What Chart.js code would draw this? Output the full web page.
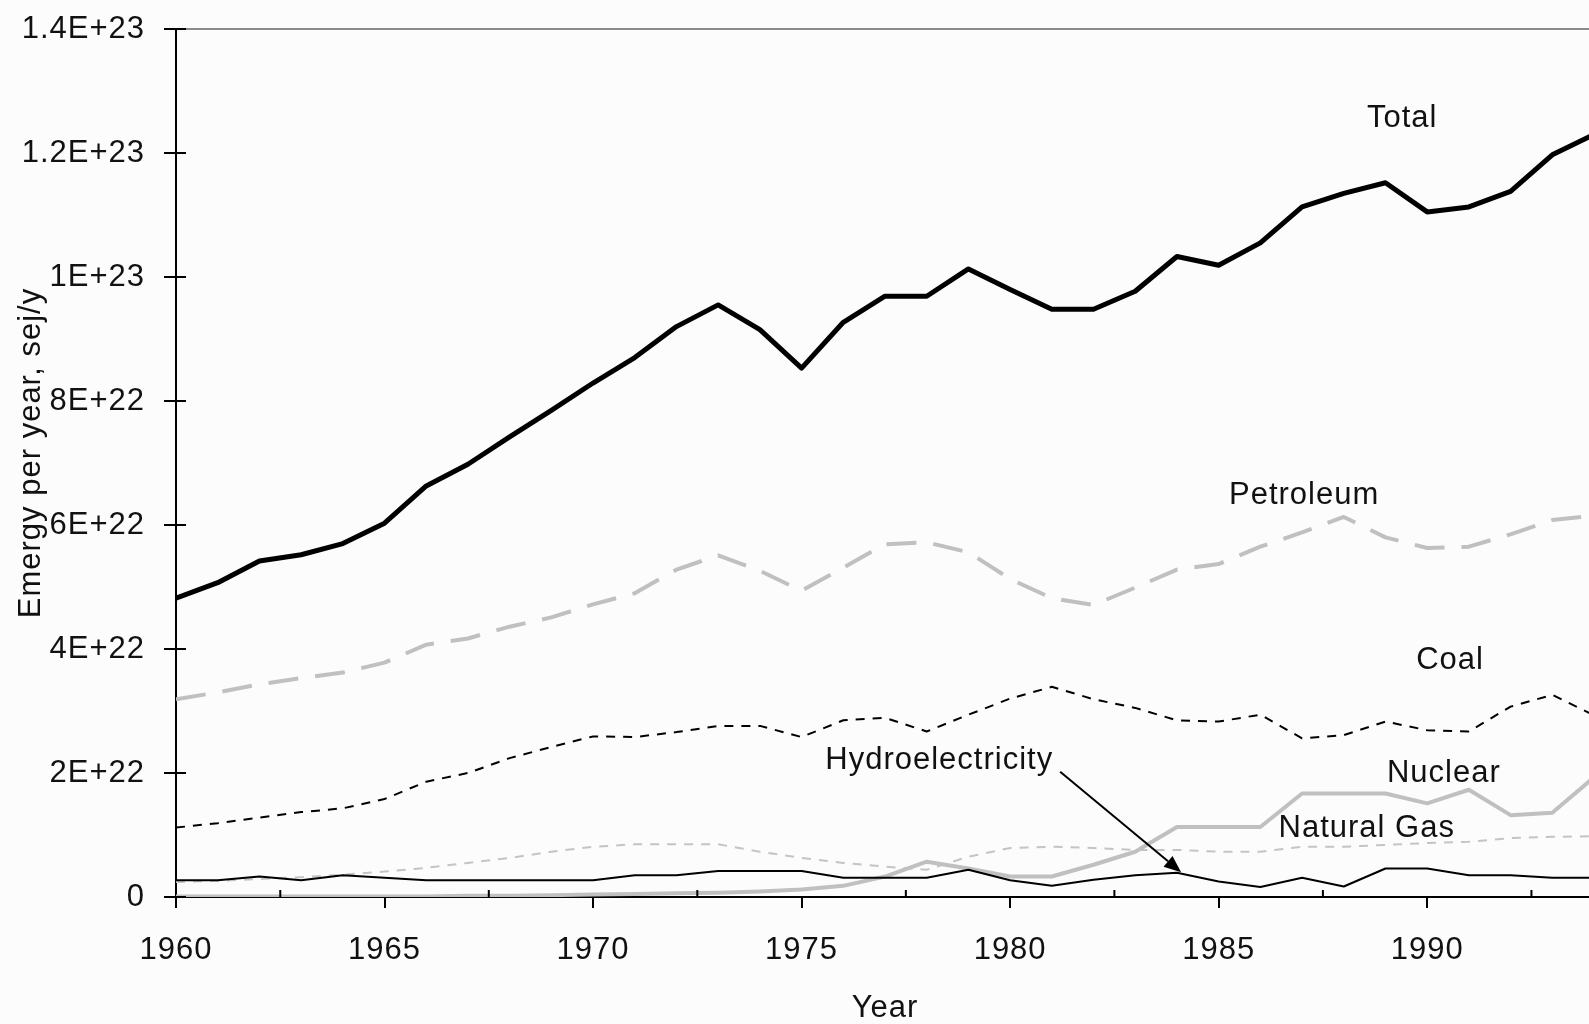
<!DOCTYPE html>
<html>
<head>
<meta charset="utf-8">
<title>Emergy per year</title>
<script src="https://cdn.jsdelivr.net/npm/chart.js@4.4.0/dist/chart.umd.min.js"></script>
<style>
  html, body { margin: 0; padding: 0; background: #fcfcfc; overflow: hidden; }
  #wrap { width: 1600px; height: 1024px; }
</style>
</head>
<body>
<div id="wrap"><canvas id="myChart" width="1600" height="1024"></canvas></div>
<script>
  // emergy per year by source, in units of 1E+21 sej/y
  var years = [1960, 1961, 1962, 1963, 1964, 1965, 1966, 1967, 1968, 1969,
               1970, 1971, 1972, 1973, 1974, 1975, 1976, 1977, 1978, 1979,
               1980, 1981, 1982, 1983, 1984, 1985, 1986, 1987, 1988, 1989,
               1990, 1991, 1992, 1993, 1994];
  var total = [48.2, 50.7, 54.2, 55.2, 57.0, 60.3, 66.3, 69.8, 74.2, 78.5,
               82.9, 87.0, 92.0, 95.5, 91.5, 85.3, 92.7, 96.9, 96.9, 101.3,
               98.0, 94.8, 94.8, 97.7, 103.3, 101.9, 105.5, 111.3, 113.5, 115.2,
               110.5, 111.3, 113.8, 119.7, 123.0];
  var petroleum = [31.9, 33.0, 34.3, 35.3, 36.2, 37.8, 40.7, 41.7, 43.6, 45.1,
                   47.2, 49.0, 52.8, 55.1, 52.6, 49.4, 53.1, 56.9, 57.2, 55.6,
                   51.3, 48.2, 47.1, 49.9, 52.8, 53.7, 56.5, 58.8, 61.3, 58.0,
                   56.3, 56.5, 58.5, 60.8, 61.5];
  var coal = [11.2, 11.9, 12.8, 13.7, 14.3, 15.8, 18.6, 20.0, 22.4, 24.2,
              25.9, 25.8, 26.6, 27.6, 27.6, 25.8, 28.5, 28.9, 26.7, 29.4,
              32.0, 33.9, 31.9, 30.5, 28.5, 28.3, 29.4, 25.6, 26.1, 28.3,
              26.9, 26.7, 30.7, 32.6, 29.3];
  var naturalGas = [2.4, 2.6, 2.9, 3.2, 3.6, 4.1, 4.7, 5.5, 6.3, 7.3,
                    8.1, 8.5, 8.5, 8.5, 7.3, 6.3, 5.5, 4.9, 4.4, 6.5,
                    7.9, 8.1, 7.9, 7.6, 7.6, 7.3, 7.3, 8.1, 8.1, 8.4,
                    8.7, 8.9, 9.5, 9.7, 9.8];
  var hydro = [2.7, 2.7, 3.3, 2.7, 3.5, 3.1, 2.7, 2.7, 2.7, 2.7,
               2.7, 3.5, 3.5, 4.2, 4.2, 4.2, 3.1, 3.1, 3.1, 4.4,
               2.7, 1.8, 2.8, 3.5, 3.9, 2.5, 1.6, 3.1, 1.7, 4.6,
               4.6, 3.5, 3.5, 3.1, 3.1];
  var nuclear = [0.1, 0.1, 0.1, 0.1, 0.1, 0.1, 0.1, 0.2, 0.2, 0.3,
                 0.4, 0.5, 0.6, 0.7, 0.9, 1.2, 1.8, 3.3, 5.7, 4.6,
                 3.3, 3.3, 5.2, 7.3, 11.3, 11.3, 11.3, 16.7, 16.7, 16.7,
                 15.1, 17.3, 13.2, 13.6, 19.3];

  var yTickLabels = ['0', '2E+22', '4E+22', '6E+22', '8E+22', '1E+23', '1.2E+23', '1.4E+23'];
  var xTicks = [1960, 1965, 1970, 1975, 1980, 1985, 1990];

  // names written beside each curve, placed in (year, value)
  var seriesNotes = [
    { text: 'Total', year: 1989.4, value: 125.6 },
    { text: 'Petroleum', year: 1987.05, value: 64.8 },
    { text: 'Coal', year: 1990.55, value: 38.2 },
    { text: 'Hydroelectricity', year: 1978.3, value: 22.1 },
    { text: 'Nuclear', year: 1990.4, value: 20.0 },
    { text: 'Natural Gas', year: 1988.55, value: 11.1 }
  ];
  var hydroArrow = { from: [1981.2, 20.2], to: [1984.1, 4.0] };

  var font = '"Liberation Sans", Arial, sans-serif';
  var ink = '#111';

  function pts(values) {
    return values.map(function (v, i) { return { x: years[i], y: v }; });
  }

  var frame = {
    id: 'frame',
    beforeDraw: function (chart) {
      var ctx = chart.ctx;
      ctx.letterSpacing = '1px';
      ctx.save();
      ctx.fillStyle = '#fcfcfc';
      ctx.fillRect(0, 0, chart.width, chart.height);
      ctx.restore();
    },
    afterDraw: function (chart) {
      var ctx = chart.ctx;
      var a = chart.chartArea;
      var x = chart.scales.x, y = chart.scales.y;
      ctx.save();

      // thin grey line along the top of the plot
      ctx.strokeStyle = '#8a8a8a';
      ctx.lineWidth = 2;
      ctx.beginPath();
      ctx.moveTo(a.left, a.top);
      ctx.lineTo(a.right, a.top);
      ctx.stroke();

      // y ticks cross the axis, minor x ticks point up
      ctx.strokeStyle = '#000';
      ctx.beginPath();
      y.ticks.forEach(function (t) {
        var py = y.getPixelForValue(t.value);
        ctx.moveTo(a.left - 12, py);
        ctx.lineTo(a.left + 10, py);
      });
      xTicks.forEach(function (v) {
        var px = x.getPixelForValue(v + 2.5);
        ctx.moveTo(px, a.bottom);
        ctx.lineTo(px, a.bottom - 7);
      });
      ctx.stroke();

      // y axis title, a little above the middle of the axis
      ctx.fillStyle = ink;
      ctx.textAlign = 'center';
      ctx.textBaseline = 'middle';
      ctx.font = '31px ' + font;
      ctx.save();
      ctx.translate(31, (a.top + a.bottom) / 2 - 10);
      ctx.rotate(-Math.PI / 2);
      ctx.fillText('Emergy per year, sej/y', 0, 0);
      ctx.restore();

      // curve names
      seriesNotes.forEach(function (n) {
        ctx.fillText(n.text, x.getPixelForValue(n.year), y.getPixelForValue(n.value));
      });

      // arrow from the hydro label down to its curve
      var x0 = x.getPixelForValue(hydroArrow.from[0]), y0 = y.getPixelForValue(hydroArrow.from[1]);
      var x1 = x.getPixelForValue(hydroArrow.to[0]), y1 = y.getPixelForValue(hydroArrow.to[1]);
      var ang = Math.atan2(y1 - y0, x1 - x0);
      var head = 17, half = 7;
      var bx = x1 - head * Math.cos(ang), by = y1 - head * Math.sin(ang);
      ctx.lineWidth = 2;
      ctx.beginPath();
      ctx.moveTo(x0, y0);
      ctx.lineTo(bx, by);
      ctx.stroke();
      ctx.fillStyle = '#000';
      ctx.beginPath();
      ctx.moveTo(x1, y1);
      ctx.lineTo(bx + half * Math.sin(ang), by - half * Math.cos(ang));
      ctx.lineTo(bx - half * Math.sin(ang), by + half * Math.cos(ang));
      ctx.closePath();
      ctx.fill();

      ctx.restore();
    }
  };

  new Chart('myChart', {
    type: 'line',
    data: {
      datasets: [
        { label: 'Total', data: pts(total), borderColor: '#000', borderWidth: 5 },
        { label: 'Hydroelectricity', data: pts(hydro), borderColor: '#000', borderWidth: 2 },
        { label: 'Coal', data: pts(coal), borderColor: '#000', borderWidth: 2, borderDash: [9, 8] },
        { label: 'Nuclear', data: pts(nuclear), borderColor: '#c0c0c0', borderWidth: 4 },
        { label: 'Natural Gas', data: pts(naturalGas), borderColor: '#c4c4c4', borderWidth: 2, borderDash: [9, 8] },
        { label: 'Petroleum', data: pts(petroleum), borderColor: '#c0c0c0', borderWidth: 4, borderDash: [30, 17] }
      ]
    },
    options: {
      responsive: false,
      animation: false,
      devicePixelRatio: 1,
      layout: { padding: { top: 29, right: 6, left: 0, bottom: 0 } },
      elements: {
        point: { radius: 0, hoverRadius: 0 },
        line: { tension: 0, borderCapStyle: 'butt', borderJoinStyle: 'round' }
      },
      plugins: {
        legend: { display: false },
        tooltip: { enabled: false }
      },
      scales: {
        x: {
          type: 'linear',
          min: 1960,
          max: 1994,
          afterFit: function (scale) { scale.height = 127; },
          afterBuildTicks: function (scale) {
            scale.ticks = xTicks.map(function (v) { return { value: v }; });
          },
          ticks: {
            color: ink,
            font: { family: font, size: 31 },
            padding: 24,
            maxRotation: 0,
            callback: function (v) { return String(v); }
          },
          grid: { display: true, drawOnChartArea: false, tickLength: 11, color: '#000', lineWidth: 2 },
          border: { display: true, color: '#000', width: 2 },
          title: {
            display: true,
            text: 'Year',
            color: ink,
            font: { family: font, size: 31, lineHeight: 1 },
            padding: { top: 0, bottom: 0 }
          }
        },
        y: {
          min: 0,
          max: 140,
          afterFit: function (scale) { scale.width = 176; },
          ticks: {
            stepSize: 20,
            color: ink,
            font: { family: font, size: 31 },
            padding: 0,
            callback: function (v, i) { return yTickLabels[i]; }
          },
          // tick marks are drawn by the frame plugin; tickLength only spaces the labels
          grid: { display: true, drawOnChartArea: false, tickLength: 31, color: 'rgba(0,0,0,0)' },
          border: { display: true, color: '#000', width: 2 }
        }
      }
    },
    plugins: [frame]
  });
</script>
</body>
</html>
